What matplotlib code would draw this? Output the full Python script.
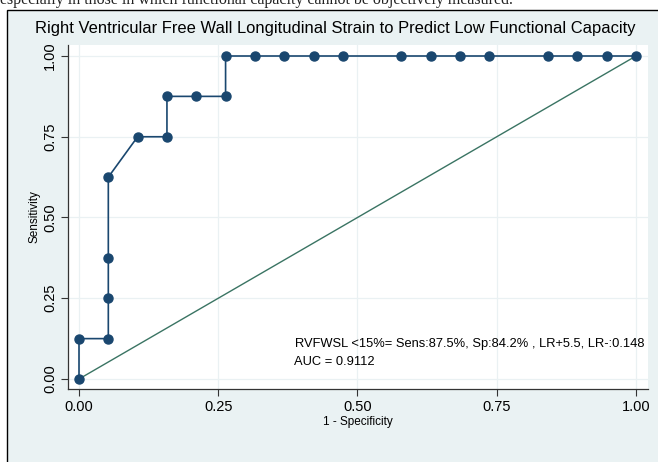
"""ROC curve for RV free wall longitudinal strain vs. low functional capacity."""

import matplotlib
matplotlib.use("Agg")
import matplotlib.pyplot as plt
from matplotlib.patches import Rectangle

# ROC coordinates (1 - specificity, sensitivity); 19 negatives, 8 positives
fpr = [0.0, 0.0, 1/19, 1/19, 1/19, 1/19, 2/19, 3/19, 3/19, 4/19, 5/19,
       5/19, 6/19, 7/19, 8/19, 9/19, 11/19, 12/19, 13/19, 14/19,
       16/19, 17/19, 18/19, 1.0]
tpr = [0.0, 0.125, 0.125, 0.25, 0.375, 0.625, 0.75, 0.75, 0.875, 0.875, 0.875,
       1.0, 1.0, 1.0, 1.0, 1.0, 1.0, 1.0, 1.0, 1.0,
       1.0, 1.0, 1.0, 1.0]
ticks = [0.0, 0.25, 0.5, 0.75, 1.0]
tick_labels = ["0.00", "0.25", "0.50", "0.75", "1.00"]

title = "Right Ventricular Free Wall Longitudinal Strain to Predict Low Functional Capacity"
note = "RVFWSL <15%= Sens:87.5%, Sp:84.2% , LR+5.5, LR-:0.148"
auc_text = "AUC = 0.9112"
caption = "especially in those in which functional capacity cannot be objectively measured."

navy = "#1a476f"
ref_green = "#3a7463"
bg = "#eaf2f3"

plt.rcParams["font.family"] = ["Liberation Sans", "DejaVu Sans"]

W, H = 658, 462
fig = plt.figure(figsize=(W / 100, H / 100), dpi=100)
fig.patch.set_facecolor("white")

# graph region box, kept behind the axes
box = Rectangle((7 / W, -0.05), 1.0, (H - 10) / H + 0.05,
                transform=fig.transFigure, facecolor=bg,
                edgecolor="black", linewidth=1.0, zorder=-5)
fig.add_artist(box)

# clipped line of body text above the figure
fig.text(0.0, 1 - 4 / H, caption, family="Liberation Serif", fontsize=11.5,
         va="baseline", ha="left", color="#222222")

ax = fig.add_axes([68 / W, (H - 389) / H, (648 - 68) / W, (389 - 45) / H])
ax.set_facecolor("white")

ax.plot([0, 1], [0, 1], color=ref_green, lw=1.0, zorder=2)
ax.plot(fpr, tpr, color=navy, lw=1.2, marker="o", markersize=6.5,
        markerfacecolor=navy, markeredgecolor=navy, zorder=3)

ax.set_xlim(-11 / 557, 1 + 12 / 557)
ax.set_ylim(-10 / 323, 1 + 11 / 323)

ax.set_xticks(ticks)
ax.set_xticklabels(tick_labels, fontsize=10.5)
ax.set_yticks(ticks)
ax.set_yticklabels(tick_labels, fontsize=10.5, rotation=90, va="center")
ax.tick_params(direction="out", length=5, width=0.8, color="#333333", pad=3)
ax.grid(True, color="#eaf1f3", lw=0.9)
ax.set_axisbelow(True)

for side in ["top", "right"]:
    ax.spines[side].set_visible(False)
for side in ["left", "bottom"]:
    ax.spines[side].set_linewidth(0.9)
    ax.spines[side].set_color("#333333")

ax.set_xlabel("1 - Specificity", fontsize=8.5, labelpad=1)
ax.set_ylabel("Sensitivity", fontsize=8.5, labelpad=2)

ax.text(0.388, 0.108, note, fontsize=9.3, ha="left", va="center")
ax.text(0.386, 0.052, auc_text, fontsize=9.3, ha="left", va="center")

fig.text(335 / W, 1 - 28 / H, title, fontsize=11.9, ha="center", va="center")

fig.savefig("out.png", dpi=100)
